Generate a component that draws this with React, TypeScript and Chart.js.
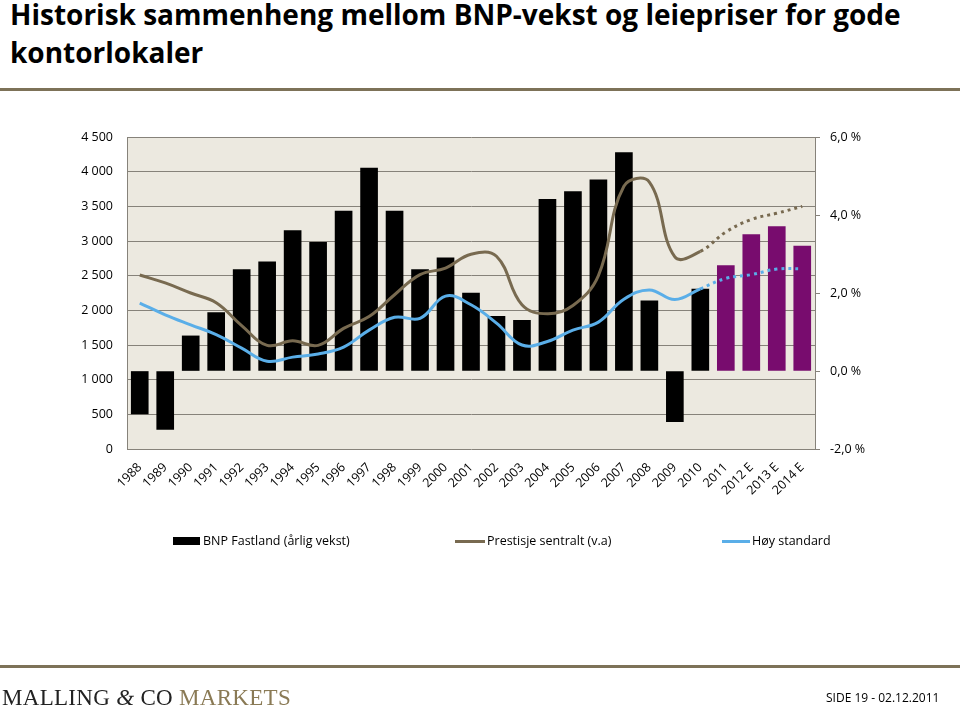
import React, { useEffect, useRef } from "react";
import { Chart, registerables } from "chart.js";

Chart.register(...registerables);

const years = [
  "1988", "1989", "1990", "1991", "1992", "1993", "1994", "1995", "1996",
  "1997", "1998", "1999", "2000", "2001", "2002", "2003", "2004", "2005",
  "2006", "2007", "2008", "2009", "2010", "2011", "2012 E", "2013 E", "2014 E",
];

// BNP Fastland, annual growth (%), right axis
const bnpGrowth = [
  -1.1, -1.5, 0.9, 1.5, 2.6, 2.8, 3.6, 3.3, 4.1, 5.2, 4.1, 2.6, 2.9, 2.0,
  1.4, 1.3, 4.4, 4.6, 4.9, 5.6, 1.8, -1.3, 2.1, 2.7, 3.5, 3.7, 3.2,
];

// Prestisje sentralt (left axis)
const prestisje = [
  2510, 2395, 2250, 2110, 1780, 1495, 1560, 1495, 1740, 1910, 2225, 2515,
  2610, 2810, 2780, 2080, 1950, 2070, 2500, 3790, 3850, 2770, 2850, 3130,
  3310, 3400, 3500,
];

// Høy standard (left axis)
const hoyStandard = [
  2105, 1935, 1790, 1650, 1455, 1265, 1325, 1370, 1470, 1715, 1900, 1885,
  2205, 2080, 1815, 1500, 1550, 1715, 1830, 2160, 2295, 2155, 2310, 2460,
  2515, 2595, 2600,
];

const leftTicks = [0, 500, 1000, 1500, 2000, 2500, 3000, 3500, 4000, 4500];
const rightTicks = [-2, 0, 2, 4, 6];
const forecastFrom = 22; // segments after 2010 are dotted
const firstPurple = 23; // 2011 onwards

const BLACK = "#000000";
const PURPLE = "#780c6e";
const BROWN = "#786a50";
const BLUE = "#5aaee8";
const PLOT_BG = "#ece9e0";
const GRID = "#86827a";
const FONT = "'Open Sans', 'Noto Sans', sans-serif";

const fmtLeft = (v: number) =>
  v >= 1000 ? `${Math.floor(v / 1000)} ${String(v % 1000).padStart(3, "0")}` : String(v);
const fmtRight = (v: number) => `${v.toFixed(1).replace(".", ",")} %`;

const plotBg = {
  id: "plotBg",
  beforeDraw(chart: any) {
    const { ctx, chartArea } = chart;
    ctx.save();
    ctx.fillStyle = PLOT_BG;
    ctx.fillRect(chartArea.left, chartArea.top, chartArea.right - chartArea.left, chartArea.bottom - chartArea.top);
    ctx.restore();
  },
};

function ChartCanvas() {
  const ref = useRef<HTMLCanvasElement | null>(null);
  useEffect(() => {
    if (!ref.current) return;
    const dash = (ctx: any) => (ctx.p0DataIndex >= forecastFrom ? [3, 4] : undefined);
    const chart = new Chart(ref.current, {
      type: "bar",
      data: {
        labels: years,
        datasets: [
          {
            type: "line",
            label: "Høy standard",
            data: hoyStandard,
            yAxisID: "y",
            borderColor: BLUE,
            borderWidth: 3,
            tension: 0.4,
            pointRadius: 0,
            pointHoverRadius: 0,
            fill: false,
            order: 1,
            segment: { borderDash: dash },
          } as any,
          {
            type: "line",
            label: "Prestisje sentralt (v.a)",
            data: prestisje,
            yAxisID: "y",
            borderColor: BROWN,
            borderWidth: 3,
            tension: 0.4,
            pointRadius: 0,
            pointHoverRadius: 0,
            fill: false,
            order: 2,
            segment: { borderDash: dash },
          } as any,
          {
            type: "bar",
            label: "BNP Fastland (årlig vekst)",
            data: bnpGrowth,
            yAxisID: "y1",
            backgroundColor: bnpGrowth.map((_, i) => (i >= firstPurple ? PURPLE : BLACK)),
            barThickness: 17,
            order: 3,
          } as any,
        ],
      },
      options: {
        animation: false,
        responsive: false,
        maintainAspectRatio: false,
        layout: { padding: { top: 137, left: 0, right: 0, bottom: 193 } },
        plugins: { legend: { display: false }, tooltip: { enabled: false } },
        scales: {
          x: {
            grid: { display: false },
            border: { display: false },
            ticks: {
              minRotation: 45,
              maxRotation: 45,
              padding: 3,
              color: "#000",
              font: { family: FONT, size: 12.5 },
              autoSkip: false,
            },
            afterFit: (s: any) => {
              s.height = 70;
            },
          },
          y: {
            position: "left",
            min: 0,
            max: 4500,
            afterBuildTicks: (s: any) => {
              s.ticks = leftTicks.map((v) => ({ value: v }));
            },
            grid: { color: GRID, lineWidth: 1, drawTicks: false },
            border: { display: true, color: GRID },
            ticks: {
              padding: 14,
              color: "#000",
              font: { family: FONT, size: 12.5 },
              callback: (v: any) => fmtLeft(Number(v)),
            },
            afterFit: (s: any) => {
              s.width = 127;
            },
          },
          y1: {
            position: "right",
            min: -2,
            max: 6,
            afterBuildTicks: (s: any) => {
              s.ticks = rightTicks.map((v) => ({ value: v }));
            },
            grid: { drawOnChartArea: false, color: GRID, tickLength: 5 },
            border: { display: true, color: GRID },
            ticks: {
              padding: 10,
              color: "#000",
              font: { family: FONT, size: 12.5 },
              callback: (v: any) => fmtRight(Number(v)),
            },
            afterFit: (s: any) => {
              s.width = 145;
            },
          },
        },
      },
      plugins: [plotBg],
    } as any);
    return () => chart.destroy();
  }, []);
  return <canvas ref={ref} width={960} height={712} style={{ position: "absolute", left: 0, top: 0, width: 960, height: 712 }} />;
}

export default function App() {
  useEffect(() => {
    document.body.style.margin = "0";
  }, []);
  const legendText: React.CSSProperties = {
    position: "absolute",
    top: 532,
    fontFamily: FONT,
    fontSize: 12.5,
    color: "#000",
    whiteSpace: "nowrap",
    lineHeight: "18px",
  };
  return (
    <div style={{ position: "relative", width: 960, height: 712, background: "#fff", overflow: "hidden", margin: 0 }}>
      <div
        style={{
          position: "absolute",
          left: 10,
          top: -5,
          fontFamily: FONT,
          fontWeight: 700,
          fontSize: 28,
          lineHeight: "38px",
          color: "#000",
          whiteSpace: "nowrap",
        }}
      >
        Historisk sammenheng mellom BNP-vekst og leiepriser for gode
        <br />
        kontorlokaler
      </div>
      <div style={{ position: "absolute", left: 0, top: 88, width: 960, height: 3, background: "#7d7258" }} />
      <ChartCanvas />
      {/* legend */}
      <div style={{ position: "absolute", left: 173, top: 537, width: 27, height: 8, background: BLACK }} />
      <div style={{ ...legendText, left: 203 }}>BNP Fastland (årlig vekst)</div>
      <div style={{ position: "absolute", left: 455, top: 540, width: 30, height: 3, background: BROWN }} />
      <div style={{ ...legendText, left: 487 }}>Prestisje sentralt (v.a)</div>
      <div style={{ position: "absolute", left: 722, top: 540, width: 28, height: 3, background: BLUE }} />
      <div style={{ ...legendText, left: 752 }}>Høy standard</div>
      {/* footer */}
      <div style={{ position: "absolute", left: 0, top: 665, width: 960, height: 3, background: "#7d7258" }} />
      <div
        style={{
          position: "absolute",
          left: 2,
          top: 684,
          fontFamily: "'Liberation Serif', 'DejaVu Serif', serif",
          fontSize: 23,
          lineHeight: "28px",
          color: "#222",
          whiteSpace: "nowrap",
          letterSpacing: 0.3,
        }}
      >
        MALLING <span style={{ fontStyle: "italic" }}>&amp;</span> CO <span style={{ color: "#8a7a55" }}>MARKETS</span>
      </div>
      <div
        style={{
          position: "absolute",
          left: 826,
          top: 690,
          fontFamily: FONT,
          fontSize: 12,
          lineHeight: "16px",
          color: "#000",
          whiteSpace: "nowrap",
        }}
      >
        SIDE 19 - 02.12.2011
      </div>
    </div>
  );
}
